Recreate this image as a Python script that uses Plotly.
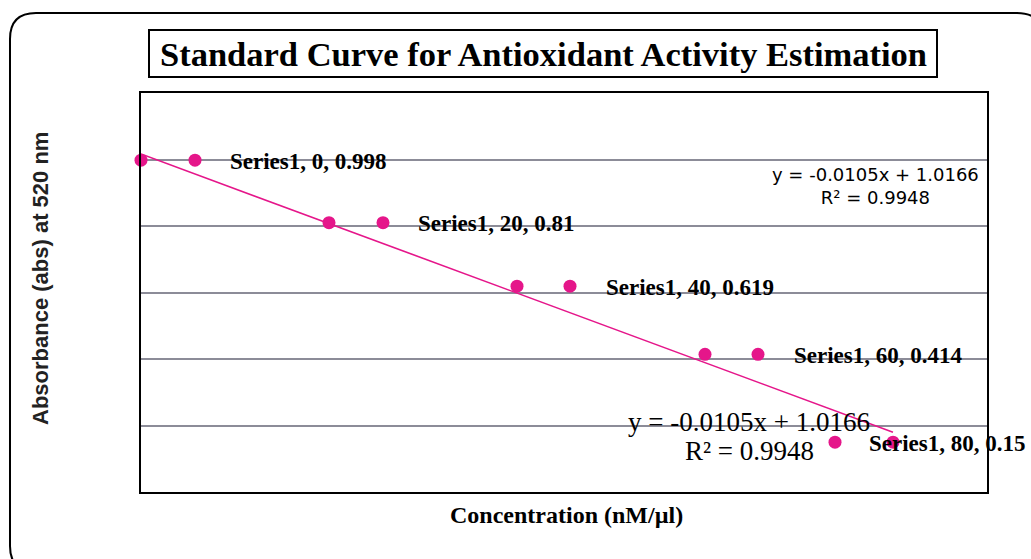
import numpy as np
import plotly.graph_objects as go

# ---- data ----
concentration = [0, 20, 40, 60, 80]
absorbance = [0.998, 0.81, 0.619, 0.414, 0.15]
series_name = "Series1"
title_text = "Standard Curve for Antioxidant Activity Estimation"
x_title = "Concentration (nM/µl)"
y_title = "Absorbance (abs) at 520 nm"

# ---- layout constants (pixels) ----
W, H = 1031, 559
PL, PR, PT, PB = 141, 987, 93, 492
X_RANGE = [0, 90]
Y_RANGE = [0, 1.2]
PINK = "#e5168a"

def px_x(p):
    return (p - PL) / (PR - PL)

def px_y(p):
    return (PB - p) / (PB - PT)

x_per_px = (X_RANGE[1] - X_RANGE[0]) / (PR - PL)

# linear fit (trendline)
slope, intercept = np.polyfit(concentration, absorbance, 1)
pred = np.polyval([slope, intercept], concentration)
ss_res = np.sum((np.array(absorbance) - pred) ** 2)
ss_tot = np.sum((np.array(absorbance) - np.mean(absorbance)) ** 2)
r2 = 1 - ss_res / ss_tot
eq_line = f"y = {slope:.4f}x + {intercept:.4f}"
r2_line = f"R² = {r2:.4f}"

fit_x = [min(concentration), max(concentration)]
fit_y = [slope * v + intercept for v in fit_x]

# style offsets for data-label legend keys and label text (in pixels)
key_shift_px = [54, 54, 53, 53, -58]
label_shift_px = [87, 87, 87, 87, -26]

fig = go.Figure()

fig.add_trace(go.Scatter(
    x=fit_x, y=fit_y, mode="lines",
    line=dict(color=PINK, width=1.6), hoverinfo="skip", showlegend=False))

fig.add_trace(go.Scatter(
    x=concentration, y=absorbance, mode="markers",
    marker=dict(color=PINK, size=13, line=dict(width=0)),
    name=series_name, showlegend=False, cliponaxis=False))

# legend-key markers shown inside data labels
fig.add_trace(go.Scatter(
    x=[c + s * x_per_px for c, s in zip(concentration, key_shift_px)],
    y=absorbance, mode="markers",
    marker=dict(color=PINK, size=13, line=dict(width=0)),
    hoverinfo="skip", showlegend=False, cliponaxis=False))

annotations = []
for c, a, s in zip(concentration, absorbance, label_shift_px):
    annotations.append(dict(
        x=c, y=a, xref="x", yref="y", xanchor="left", yanchor="middle",
        xshift=s, yshift=-1, showarrow=False,
        text=f"<b>{series_name}, {c:g}, {a:g}</b>",
        font=dict(family="Liberation Serif", size=23, color="black")))

# trendline equations
annotations.append(dict(
    x=px_x(875), y=px_y(186), xref="paper", yref="paper", showarrow=False,
    xanchor="center", yanchor="middle", align="center",
    text=f"{eq_line}<br>{r2_line}",
    font=dict(family="DejaVu Sans", size=18, color="black")))
annotations.append(dict(
    x=px_x(749), y=px_y(422), xref="paper", yref="paper", showarrow=False,
    xanchor="center", yanchor="middle", text=eq_line,
    font=dict(family="Liberation Serif", size=27, color="black")))
annotations.append(dict(
    x=px_x(749), y=px_y(451), xref="paper", yref="paper", showarrow=False,
    xanchor="center", yanchor="middle", text=r2_line,
    font=dict(family="Liberation Serif", size=27, color="black")))

# titles
annotations.append(dict(
    x=px_x(543), y=px_y(54), xref="paper", yref="paper", showarrow=False,
    xanchor="center", yanchor="middle", text=f"<b>{title_text}</b>",
    font=dict(family="Liberation Serif", size=34.5, color="black")))
annotations.append(dict(
    x=px_x(566), y=px_y(515), xref="paper", yref="paper", showarrow=False,
    xanchor="center", yanchor="middle", text=f"<b>{x_title}</b>",
    font=dict(family="Liberation Serif", size=24, color="black")))
annotations.append(dict(
    x=px_x(40), y=px_y(279), xref="paper", yref="paper", showarrow=False,
    xanchor="center", yanchor="middle", textangle=-90, text=f"<b>{y_title}</b>",
    font=dict(family="Liberation Sans", size=22, color="#222222")))

# shapes: outer rounded frame and title box
x0, y0, x1, y1, r = 10, 13, 1043, 572, 26
def P(px, py):
    return f"{px_x(px):.5f},{px_y(py):.5f}"
frame_path = (
    f"M {P(x0 + r, y0)} L {P(x1 - r, y0)} Q {P(x1, y0)} {P(x1, y0 + r)} "
    f"L {P(x1, y1 - r)} Q {P(x1, y1)} {P(x1 - r, y1)} "
    f"L {P(x0 + r, y1)} Q {P(x0, y1)} {P(x0, y1 - r)} "
    f"L {P(x0, y0 + r)} Q {P(x0, y0)} {P(x0 + r, y0)} Z")
shapes = [
    dict(type="path", xref="paper", yref="paper", path=frame_path,
         line=dict(color="black", width=2)),
    dict(type="rect", xref="paper", yref="paper",
         x0=px_x(149), x1=px_x(937), y0=px_y(30), y1=px_y(77),
         line=dict(color="black", width=2), fillcolor="rgba(0,0,0,0)"),
]

fig.update_layout(
    width=W, height=H,
    margin=dict(l=PL, r=W - PR, t=PT, b=H - PB),
    paper_bgcolor="white", plot_bgcolor="white",
    showlegend=False,
    xaxis=dict(range=X_RANGE, showgrid=False, zeroline=False, showticklabels=False,
               ticks="", showline=True, mirror=True, linecolor="black", linewidth=2),
    yaxis=dict(range=Y_RANGE, dtick=0.2, showgrid=True, gridcolor="#8c8c98",
               gridwidth=2, zeroline=False, showticklabels=False, ticks="",
               showline=True, mirror=True, linecolor="black", linewidth=2),
    annotations=annotations, shapes=shapes,
)

fig.write_html("out.html", config={"displayModeBar": False},
               post_script="document.body.style.margin='0';document.body.style.overflow='hidden';")
